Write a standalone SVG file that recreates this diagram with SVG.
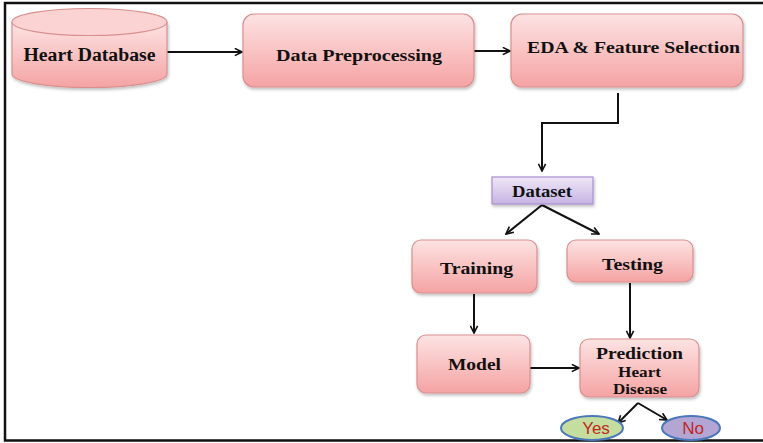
<svg xmlns="http://www.w3.org/2000/svg" width="763" height="443" viewBox="0 0 763 443">
  <defs>
    <linearGradient id="pink" x1="0" y1="0" x2="0" y2="1">
      <stop offset="0" stop-color="#fde3e3"/>
      <stop offset="1" stop-color="#f5a3a3"/>
    </linearGradient>
    <linearGradient id="lilac" x1="0" y1="0" x2="0" y2="1">
      <stop offset="0" stop-color="#efe8f7"/>
      <stop offset="1" stop-color="#c7b3e3"/>
    </linearGradient>
    <filter id="shadow" x="-10%" y="-10%" width="125%" height="130%">
      <feDropShadow dx="1" dy="2" stdDeviation="1.5" flood-color="#000" flood-opacity="0.25"/>
    </filter>
    <marker id="arrow" viewBox="0 0 10 10" refX="9" refY="5" markerWidth="9" markerHeight="9" markerUnits="userSpaceOnUse" orient="auto">
      <path d="M1,1 L9,5 L1,9" fill="none" stroke="#111" stroke-width="1.8"/>
    </marker>
  </defs>
  <style>
    .box { fill: url(#pink); stroke: #d98f8f; stroke-width: 1.2; filter: url(#shadow); }
    .lbl { font-family: "Liberation Serif", "Times New Roman", serif; font-weight: bold; fill: #111; text-anchor: middle; }
    .conn { fill: none; stroke: #111; stroke-width: 2; marker-end: url(#arrow); }
    .oval-txt { font-family: "Liberation Sans", Arial, sans-serif; fill: #c0281e; text-anchor: middle; font-size: 17px; }
  </style>

  <!-- frame (runs off the right edge) -->
  <rect x="5" y="3" width="770" height="437.5" fill="#fff" stroke="#111" stroke-width="2.5"/>

  <g id="connectors">
    <line class="conn" x1="167" y1="52" x2="242" y2="52"/>
    <line class="conn" x1="474" y1="51" x2="510" y2="51"/>
    <polyline class="conn" points="618,93 618,123 542,123 542,171"/>
    <line class="conn" x1="542" y1="205" x2="506" y2="234"/>
    <line class="conn" x1="542" y1="205" x2="599" y2="234"/>
    <line class="conn" x1="474" y1="294" x2="474" y2="333"/>
    <line class="conn" x1="630" y1="283" x2="630" y2="338"/>
    <line class="conn" x1="530" y1="368" x2="579" y2="368"/>
    <polyline class="conn" points="638,403 618,423" />
    <polyline class="conn" points="638,403 667,420" />
  </g>

  <g id="heart-database">
    <path d="M12,22 L12,74 A77.5,13.5 0 0 0 167,74 L167,22" fill="url(#pink)" stroke="#d98f8f" stroke-width="1.2" filter="url(#shadow)"/>
    <ellipse cx="89.5" cy="22" rx="77.5" ry="13.5" fill="#fbd3d3" stroke="#d98f8f" stroke-width="1.2"/>
    <text class="lbl" x="89.5" y="61" font-size="18" textLength="132" lengthAdjust="spacingAndGlyphs">Heart Database</text>
  </g>

  <g id="data-preprocessing">
    <rect class="box" x="243" y="14" width="231" height="73" rx="11"/>
    <text class="lbl" x="359" y="61" font-size="17" textLength="166" lengthAdjust="spacingAndGlyphs">Data Preprocessing</text>
  </g>

  <g id="eda-feature-selection">
    <rect class="box" x="511" y="14" width="232" height="73" rx="11"/>
    <text class="lbl" x="633.5" y="53" font-size="17" textLength="213" lengthAdjust="spacingAndGlyphs">EDA &amp; Feature Selection</text>
  </g>

  <g id="dataset">
    <rect x="492" y="177" width="101" height="27" fill="url(#lilac)" stroke="#a98fd2" stroke-width="1.2" filter="url(#shadow)"/>
    <text class="lbl" x="542" y="197" font-size="16" textLength="60" lengthAdjust="spacingAndGlyphs">Dataset</text>
  </g>

  <g id="training">
    <rect class="box" x="412" y="240" width="125" height="53" rx="9"/>
    <text class="lbl" x="476.5" y="274" font-size="17" textLength="73" lengthAdjust="spacingAndGlyphs">Training</text>
  </g>

  <g id="testing">
    <rect class="box" x="567" y="240" width="126" height="42" rx="9"/>
    <text class="lbl" x="632.5" y="270" font-size="17" textLength="61" lengthAdjust="spacingAndGlyphs">Testing</text>
  </g>

  <g id="model">
    <rect class="box" x="417" y="335" width="113" height="58" rx="9"/>
    <text class="lbl" x="474.5" y="370" font-size="17" textLength="53" lengthAdjust="spacingAndGlyphs">Model</text>
  </g>

  <g id="prediction">
    <rect class="box" x="580" y="339" width="119" height="58" rx="9"/>
    <text class="lbl" x="639.5" y="359" font-size="17" textLength="87" lengthAdjust="spacingAndGlyphs">Prediction</text>
    <text class="lbl" x="639.5" y="377" font-size="14" textLength="43" lengthAdjust="spacingAndGlyphs">Heart</text>
    <text class="lbl" x="640" y="394" font-size="14" textLength="54" lengthAdjust="spacingAndGlyphs">Disease</text>
  </g>

  <g id="yes">
    <ellipse cx="592" cy="428" rx="31" ry="12" fill="#c5dea0" stroke="#4a78b8" stroke-width="2"/>
    <text class="oval-txt" x="596" y="434">Yes</text>
  </g>

  <g id="no">
    <ellipse cx="691" cy="428" rx="29" ry="12" fill="#b3a6d4" stroke="#4a78b8" stroke-width="2"/>
    <text class="oval-txt" x="693" y="434">No</text>
  </g>
</svg>
